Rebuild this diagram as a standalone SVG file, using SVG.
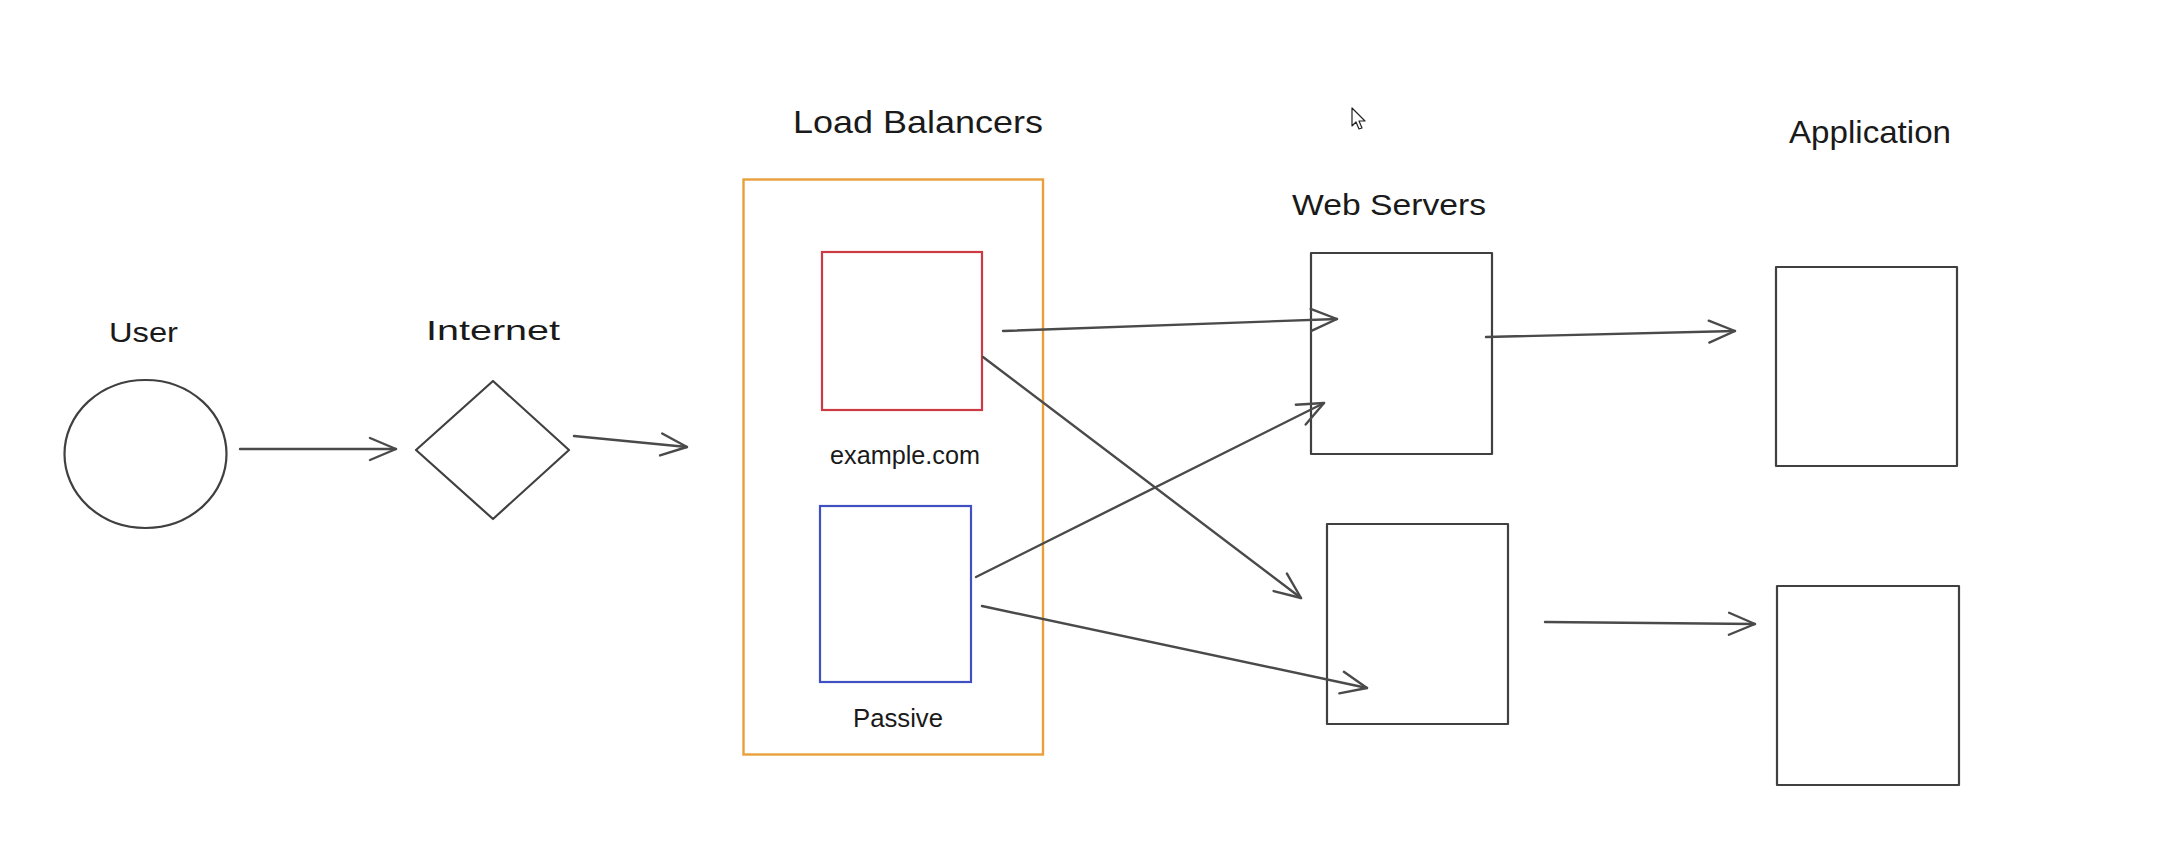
<svg xmlns="http://www.w3.org/2000/svg" width="2180" height="858" viewBox="0 0 2180 858">
<style>
.s{fill:none;stroke:#404040;stroke-width:2.2;stroke-linejoin:round;stroke-linecap:round}
.t{font-family:"Liberation Sans","DejaVu Sans",sans-serif;fill:#1a1a1a;text-anchor:middle}
.c{fill:none;stroke:#4a4a4a;stroke-width:2.4;stroke-linecap:round}
</style>
<defs>
<marker id="ah" markerUnits="userSpaceOnUse" markerWidth="30" markerHeight="26" viewBox="-2 -2 30 26" refX="26" refY="11" orient="auto">
<path d="M0,0 L26,11 L0,22" fill="none" stroke="#4a4a4a" stroke-width="2.4" stroke-linecap="round" stroke-linejoin="round"/>
</marker>
</defs>
<rect width="2180" height="858" fill="#ffffff"/>

<g id="user">
<ellipse class="s" cx="145.5" cy="454" rx="81" ry="74"/>
<text class="t" x="143.5" y="342" font-size="28" textLength="69" lengthAdjust="spacingAndGlyphs">User</text>
</g>

<g id="internet">
<polygon class="s" points="416,450 493,381 569,450 493,519"/>
<text class="t" x="493" y="340" font-size="28" textLength="134" lengthAdjust="spacingAndGlyphs">Internet</text>
</g>

<g id="load-balancers">
<rect x="743.5" y="179.5" width="299.5" height="575" fill="none" stroke="#e9a03c" stroke-width="2.4"/>
<text class="t" x="918" y="133" font-size="32" textLength="250" lengthAdjust="spacingAndGlyphs">Load Balancers</text>
</g>

<g id="lb-active">
<rect x="822" y="252" width="160" height="158" fill="none" stroke="#cc3a44" stroke-width="2.2"/>
<text class="t" x="905" y="464" font-size="25" textLength="150" lengthAdjust="spacingAndGlyphs">example.com</text>
</g>

<g id="lb-passive">
<rect x="820" y="506" width="151" height="176" fill="none" stroke="#4050c0" stroke-width="2.2"/>
<text class="t" x="898" y="727" font-size="25" textLength="90" lengthAdjust="spacingAndGlyphs">Passive</text>
</g>

<g id="web-server-1">
<rect class="s" x="1311" y="253" width="181" height="201"/>
<text class="t" x="1389" y="215" font-size="30" textLength="194" lengthAdjust="spacingAndGlyphs">Web Servers</text>
</g>

<g id="web-server-2">
<rect class="s" x="1327" y="524" width="181" height="200"/>
</g>

<g id="app-1">
<rect class="s" x="1776" y="267" width="181" height="199"/>
<text class="t" x="1870" y="143" font-size="32" textLength="162" lengthAdjust="spacingAndGlyphs">Application</text>
</g>

<g id="app-2">
<rect class="s" x="1777" y="586" width="182" height="199"/>
</g>

<g id="connectors">
<line class="c" x1="240" y1="449" x2="396" y2="449" marker-end="url(#ah)"/>
<line class="c" x1="574" y1="436" x2="687" y2="447" marker-end="url(#ah)"/>
<line class="c" x1="1003" y1="331" x2="1337" y2="319" marker-end="url(#ah)"/>
<line class="c" x1="983" y1="357" x2="1301" y2="598" marker-end="url(#ah)"/>
<line class="c" x1="976" y1="577" x2="1324" y2="403" marker-end="url(#ah)"/>
<line class="c" x1="982" y1="606" x2="1367" y2="688" marker-end="url(#ah)"/>
<line class="c" x1="1486" y1="337" x2="1735" y2="331" marker-end="url(#ah)"/>
<line class="c" x1="1545" y1="622" x2="1755" y2="624" marker-end="url(#ah)"/>
</g>

<g id="cursor">
<path d="M1352,108 L1352,126 L1356,122 L1359,129 L1362,128 L1359,121 L1365,121 Z" fill="#ffffff" stroke="#222222" stroke-width="1.2" stroke-linejoin="round"/>
</g>
</svg>
